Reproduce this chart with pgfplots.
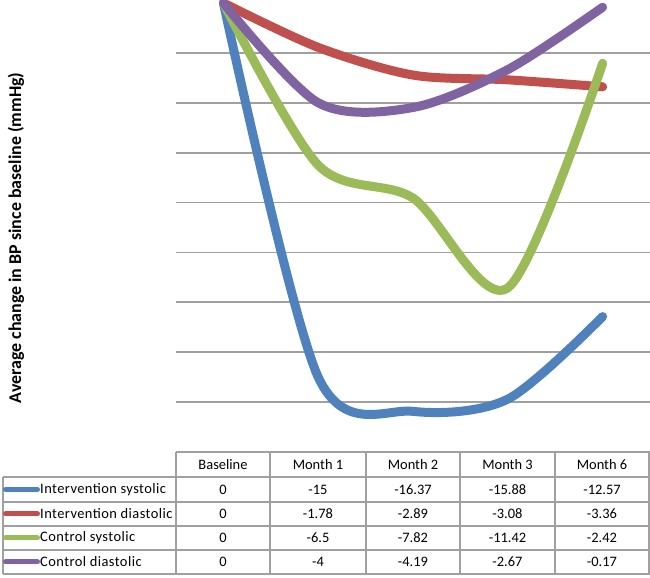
\documentclass[border=0pt]{standalone}
\usepackage{pgfplots}
\pgfplotsset{compat=1.18}
\usepackage{fontspec}
\setmainfont{Carlito}
\newfontfamily\legfont[LetterSpace=3]{Carlito}
\definecolor{cblue}{RGB}{79,129,189}
\definecolor{cred}{RGB}{192,80,77}
\definecolor{cgreen}{RGB}{155,187,89}
\definecolor{cpurple}{RGB}{128,100,162}
\definecolor{gridgray}{RGB}{160,160,160}
\begin{document}
\fontsize{14.5}{17}\selectfont
\begin{tikzpicture}[x=1bp,y=1bp]
\useasboundingbox (0,0) rectangle (650,578);
\begin{axis}[at={(176bp,126bp)}, anchor=south west, scale only axis,
  width=474bp, height=449bp, xmin=-0.5, xmax=4.5, ymin=-18, ymax=0,
  xtick=\empty, ytick={-16,-14,...,-2}, yticklabels={},
  ymajorgrids, grid style={line width=1.8bp, color=gridgray},
  axis line style={draw=none}, major tick length=0, clip=false,
  every axis plot/.append style={line width=9bp, line cap=round, line join=round, smooth, no markers}]
\addplot[cblue] coordinates {(0,0) (1,-15) (2,-16.37) (3,-15.88) (4,-12.57)};
\addplot[cred] coordinates {(0,0) (1,-1.78) (2,-2.89) (3,-3.08) (4,-3.36)};
\addplot[cgreen] coordinates {(0,0) (1,-6.5) (2,-7.82) (3,-11.42) (4,-2.42)};
\addplot[cpurple] coordinates {(0,0) (1,-4) (2,-4.19) (3,-2.67) (4,-0.17)};
\end{axis}
% data table
\begin{scope}[gridgray, line width=1.8bp]
\draw (176,126) -- (650,126);
\foreach \yy in {101,76,52,28,4} {\draw (3,\yy) -- (650,\yy);}
\foreach \xx in {176,270,366,460,555,649} {\draw (\xx,126) -- (\xx,4);}
\draw (3,101) -- (3,4);
\end{scope}
\foreach \xx/\t in {223/Baseline,318/Month 1,413/Month 2,507.5/Month 3,602/Month 6} {\node at (\xx,113) {\t};}
\foreach \yy/\c/\n/\a/\b/\cc/\d [count=\i] in {
  88.5/cblue/Intervention systolic/-15/-16.37/-15.88/-12.57,
  64/cred/Intervention diastolic/-1.78/-2.89/-3.08/-3.36,
  40/cgreen/Control systolic/-6.5/-7.82/-11.42/-2.42,
  16/cpurple/Control diastolic/-4/-4.19/-2.67/-0.17} {
  \draw[\c, line width=5bp, line cap=round] (5.5,\yy) -- (37.5,\yy);
  \node[anchor=west, inner sep=0pt, font=\legfont] at (40,\yy) {\n};
  \node at (223,\yy) {0};
  \node at (318,\yy) {\a};
  \node at (413,\yy) {\b};
  \node at (507.5,\yy) {\cc};
  \node at (602,\yy) {\d};
}
\node[rotate=90, font=\fontsize{18}{20}\selectfont\bfseries] at (16,340) {Average change in BP since baseline (mmHg)};
\end{tikzpicture}
\end{document}
